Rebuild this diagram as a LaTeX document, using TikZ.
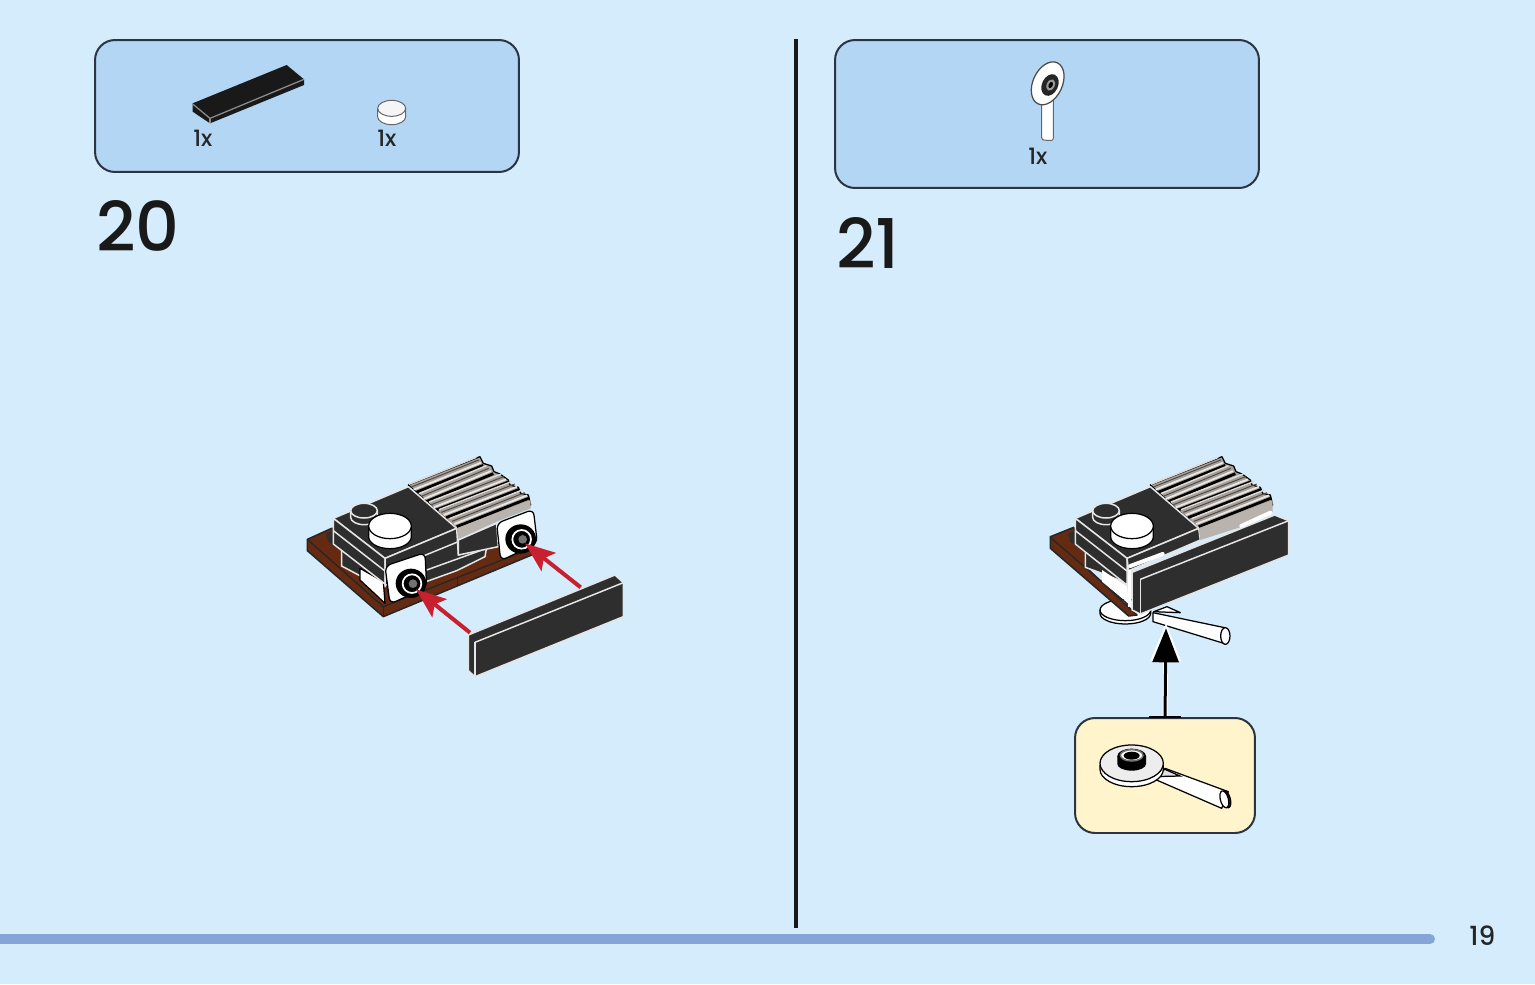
\documentclass[tikz,border=0pt]{standalone}
\usepackage{fontspec}
\setmainfont{Poppins}
\newfontfamily\labelfont{Poppins Medium}
\usetikzlibrary{arrows.meta}
\definecolor{pagebg}{HTML}{D4ECFC}
\definecolor{partsbg}{HTML}{B2D6F4}
\definecolor{tipbg}{HTML}{FFF4CC}
\definecolor{barblue}{HTML}{85A5D8}
\definecolor{edgeink}{HTML}{2B3440}
\definecolor{brickdark}{HTML}{2E2E2E}
\definecolor{brown}{HTML}{642A12}
\definecolor{ribgrey}{HTML}{A8A098}
\definecolor{redarrow}{HTML}{C8202F}
\tikzset{
	partsbox/.style={rectangle,draw=edgeink,line width=0.4mm,fill=partsbg,rounded corners=4mm,minimum width=8.48cm},
	tipbox/.style={rectangle,draw=edgeink,line width=0.4mm,fill=tipbg,rounded corners=4mm,minimum width=3.6cm,minimum height=2.3cm},
	stepnum/.style={anchor=base west,inner sep=0pt,font=\labelfont\fontsize{39}{39}\selectfont,text=black!90},
	countlabel/.style={anchor=base west,inner sep=0pt,font=\labelfont\fontsize{12.8}{13}\selectfont,text=black!85},
	darkface/.style={fill=brickdark,draw=black!10,line width=0.3mm,line join=round},
	whiteface/.style={fill=white,draw=black,line width=0.25mm,line join=round},
	brownface/.style={fill=brown,draw=black!85,line width=0.3mm,line join=round},
	redpush/.style={draw=redarrow,line width=0.8mm,-{Stealth[length=6mm,width=4.6mm,inset=1.2mm]}},
}
% ribs and top of the block, used in both steps
\newcommand{\ribline}[2]{
	\draw[black!70,line width=0.2mm] ([shift={(-14,-16)}]#1) -- ([shift={(-14,-16)}]#2);
	\draw[white!75!ribgrey,line width=0.35mm] ([shift={(-7,-8)}]#1) -- ([shift={(-7,-8)}]#2);
	\draw[white!60!ribgrey,line width=0.3mm] ([shift={(-21,-24)}]#1) -- ([shift={(-21,-24)}]#2);
	\draw[black,line width=0.55mm] (#1) -- (#2);
}
\newcommand{\blocktop}{
	\draw[fill=ribgrey,draw=black,line width=0.25mm,line join=round] (355,135) -- (570,50) -- (580,70) -- (605,78) -- (612,95) -- (630,102) -- (655,120) -- (660,135) -- (685,142) -- (692,160) -- (715,165) -- (722,195) -- (630,235) -- (505,270) -- cycle;
	\ribline{378,157}{580,76}
	\ribline{408,185}{610,101}
	\ribline{438,210}{655,126}
	\ribline{468,233}{688,148}
	\ribline{500,260}{718,174}
	\draw[darkface] (130,235) -- (355,140) -- (500,265) -- (285,355) -- cycle;
	\draw[darkface] (182,212) -- (182,232) arc[start angle=180,end angle=0,x radius=40,y radius=22] -- (262,212);
	\draw[darkface] (222,212) ellipse[x radius=40,y radius=22];
	\draw[whiteface] (236,258) -- (236,290) arc[start angle=180,end angle=0,x radius=64,y radius=36] -- (364,258);
	\draw[whiteface] (300,258) ellipse[x radius=64,y radius=38];
}
\begin{document}
\begin{tikzpicture}[x=0.02cm,y=-0.02cm]
	\useasboundingbox[fill=pagebg] (0,0) rectangle (1535,984);
	% Place boxes
	\node [partsbox,minimum height=2.64cm] (parts20) at (307,106) {};
	\node [partsbox,minimum height=2.96cm] (parts21) at (1047,114) {};
	\node [stepnum] (num20) at (96,251) {20};
	\node [stepnum] (num21) at (836,268) {21};
	\node [countlabel] (count20a) at (193,146) {1x};
	\node [countlabel] (count20b) at (377,146) {1x};
	\node [countlabel] (count21) at (1028,164) {1x};
	\node [anchor=base west,inner sep=0pt,font=\labelfont\fontsize{15}{15}\selectfont,text=black!85] (pagenum) at (1469,945) {19};
	% Page lines
	\coordinate (divtop) at (796,39);
	\coordinate (divbot) at (796,928);
	\coordinate (barleft) at (0,939);
	\coordinate (barright) at (1430,939);
	\draw [line width=0.65mm,color=black!90] (divtop) -- (divbot);
	\draw [line width=2mm,color=barblue,line cap=round] (barleft) -- (barright);
	% Parts of step 20
	\begin{scope}[shift={(170,50)},scale=1/3]
		\fill [black!90] (68,160) -- (350,45) -- (402,88) -- (402,105) -- (120,220) -- (68,185) -- cycle;
		\draw [black!45,line width=0.25mm] (68,162) -- (120,205) -- (402,88);
		\draw [black!45,line width=0.25mm] (120,205) -- (120,220);
		\draw [whiteface,draw=black!60,line width=0.2mm] (623,175) -- (623,200) arc[start angle=180,end angle=0,x radius=42,y radius=24] -- (707,175);
		\draw [whiteface,draw=black!60,line width=0.2mm,fill=black!4] (665,175) ellipse[x radius=42,y radius=24];
	\end{scope}
	% Part of step 21
	\begin{scope}[shift={(1000,50)},scale=1/3]
		\draw [whiteface,draw=black!60,line width=0.2mm,rounded corners=0.5mm] (125,145) -- (125,270) -- (160,272) -- (160,145) -- cycle;
		\draw [whiteface,draw=black!70] (143,100) ellipse[x radius=44,y radius=68,rotate=-25];
		\fill [black!85,rotate around={-25:(150,105)}] (150,105) ellipse[x radius=24,y radius=34];
		\fill [black!40,rotate around={-25:(152,105)}] (152,105) ellipse[x radius=12,y radius=18];
		\fill [black,rotate around={-25:(152,105)}] (152,105) ellipse[x radius=6,y radius=10];
	\end{scope}
	% Step 20 model
	\begin{scope}[shift={(290,440)},scale=1/3]
		\draw [brownface] (52,298) -- (125,265) -- (725,325) -- (725,345) -- (280,530) -- (52,332) -- cycle;
		\draw [black!85,line width=0.25mm] (52,298) -- (280,500) -- (725,325);
		\draw [black!85,line width=0.25mm] (280,500) -- (280,530);
		\draw [black!85,line width=0.25mm] (503,410) -- (503,436);
		\fill [brickdark] (108,280) -- (135,270) -- (135,320) -- (115,305) -- cycle;
		\draw [darkface] (155,330) -- (155,378) -- (215,410) -- (285,440) -- (285,355) -- cycle;
		\draw [whiteface] (210,385) -- (280,425) -- (285,490) -- (210,420) -- cycle;
		\blocktop
		\draw [darkface] (130,235) -- (285,355) -- (285,432) -- (130,312) -- cycle;
		\draw [black!10,line width=0.3mm] (130,272) -- (285,393);
		\draw [darkface] (285,355) -- (500,265) -- (505,345) -- (590,320) -- (585,350) -- (500,392) -- (408,425) -- (285,435) -- cycle;
		\draw [black!10,line width=0.3mm] (285,395) -- (505,305);
		\draw [black!10,line width=0.3mm] (410,390) -- (590,325);
		\draw [darkface] (505,300) -- (620,250) -- (625,320) -- (505,345) -- cycle;
		\fill [ribgrey!80] (500,265) -- (722,180) -- (722,205) -- (620,245) -- (505,297) -- cycle;
		\draw [whiteface,rounded corners=1.2mm] (620,250) -- (730,208) -- (742,310) -- (632,362) -- cycle;
		\draw [whiteface,rounded corners=1.2mm] (285,378) -- (405,338) -- (410,442) -- (300,492) -- cycle;
		\fill [black] (692,297) ellipse[x radius=46,y radius=44];
		\draw [white,line width=0.35mm] (695,298) ellipse[x radius=28,y radius=28];
		\fill [black!55] (698,298) ellipse[x radius=13,y radius=13];
		\fill [black] (363,430) ellipse[x radius=46,y radius=44];
		\draw [white,line width=0.35mm] (366,431) ellipse[x radius=28,y radius=28];
		\fill [black!55] (369,431) ellipse[x radius=13,y radius=13];
		\draw [darkface] (535,585) -- (975,405) -- (1000,428) -- (1000,530) -- (555,710) -- (535,692) -- cycle;
		\draw [black!10,line width=0.3mm] (555,607) -- (1000,428);
		\draw [black!10,line width=0.3mm] (555,607) -- (555,710);
		% Push arrows
		\coordinate (plugA) at (378,448);
		\coordinate (panelA) at (540,578);
		\coordinate (plugB) at (705,310);
		\coordinate (panelB) at (872,442);
		\draw [redpush] (panelA) -- (plugA);
		\draw [redpush] (panelB) -- (plugB);
	\end{scope}
	% Step 21 model
	\begin{scope}[shift={(1032,440)},scale=1/3]
		\draw [whiteface] (204,510) -- (204,520) arc[start angle=180,end angle=0,x radius=76,y radius=32] -- (356,510);
		\draw [whiteface] (280,510) ellipse[x radius=76,y radius=32];
		\draw [whiteface] (363,518) -- (578,563) -- (582,612) -- (363,545) -- cycle;
		\draw [whiteface] (580,588) ellipse[x radius=14,y radius=25];
		\draw [whiteface] (365,515) -- (405,500) -- (445,518) -- cycle;
		\draw [brownface] (55,290) -- (125,262) -- (160,340) -- (160,380) -- (315,525) -- (290,528) -- (55,325) -- cycle;
		\draw [black!85,line width=0.25mm] (55,292) -- (290,495);
		\fill [brickdark] (108,280) -- (135,270) -- (135,320) -- (115,305) -- cycle;
		\draw [darkface] (160,335) -- (160,382) -- (210,400) -- (285,430) -- (285,350) -- cycle;
		\fill [white] (210,390) -- (285,440) -- (290,490) -- (210,425) -- cycle;
		\blocktop
		\draw [darkface] (130,235) -- (285,355) -- (285,435) -- (130,312) -- cycle;
		\draw [black!10,line width=0.3mm] (130,272) -- (285,393);
		\draw [darkface] (285,355) -- (500,265) -- (505,300) -- (290,392) -- cycle;
		\fill [ribgrey!80] (500,265) -- (722,180) -- (722,215) -- (630,260) -- (505,300) -- cycle;
		\draw [white,line width=0.8mm,line cap=round] (628,258) -- (715,218);
		\draw [white,line width=0.8mm,line cap=round] (295,378) -- (392,342);
		% Panel on the front
		\draw [darkface] (300,397) -- (728,225) -- (770,242) -- (770,345) -- (325,522) -- (300,510) -- cycle;
		\draw [black!10,line width=0.3mm] (325,418) -- (770,242);
		\draw [black!10,line width=0.3mm] (325,418) -- (325,522);
		\draw [white,line width=0.6mm] (292,390) -- (292,500);
		% Arrow tip
		\coordinate (arrowtip) at (402,565);
	\end{scope}
	% Detail box
	\node [tipbox] (detail) at (1165,775.5) {};
	\begin{scope}[shift={(1065,650)},scale=1/3]
		\draw [whiteface] (270,388) -- (300,355) -- (490,425) -- (470,475) -- cycle;
		\draw [whiteface,fill=black!85] (484,448) ellipse[x radius=12,y radius=26,rotate=15];
		\draw [whiteface] (478,448) ellipse[x radius=12,y radius=26,rotate=15];
		\draw [black,fill=black!12,line width=0.25mm] (260,380) -- (300,358) -- (345,378) -- cycle;
		\draw [whiteface] (105,345) -- (105,358) arc[start angle=180,end angle=0,x radius=95,y radius=52] -- (295,345);
		\draw [whiteface,fill=black!7] (200,340) ellipse[x radius=95,y radius=55];
		\fill [black] (157,318) -- (157,342) arc[start angle=180,end angle=0,x radius=43,y radius=20] -- (243,318) -- cycle;
		\fill [black] (200,318) ellipse[x radius=43,y radius=22];
		\draw [black!55,fill=white,line width=0.3mm] (200,316) ellipse[x radius=34,y radius=17];
		\fill [black] (200,317) ellipse[x radius=24,y radius=12];
	\end{scope}
	% Black arrow
	\draw [white,line width=1mm,-{Triangle[length=7.6mm,width=6mm]}] (detail.north) -- ([yshift=0.1cm]arrowtip);
	\draw [black,line width=0.6mm,-{Triangle[length=6.8mm,width=5.2mm]}] (detail.north) -- (arrowtip);
	\draw [black,line width=0.5mm] ([xshift=-0.32cm]detail.north) -- ([xshift=0.32cm]detail.north);
\end{tikzpicture}
\end{document}
